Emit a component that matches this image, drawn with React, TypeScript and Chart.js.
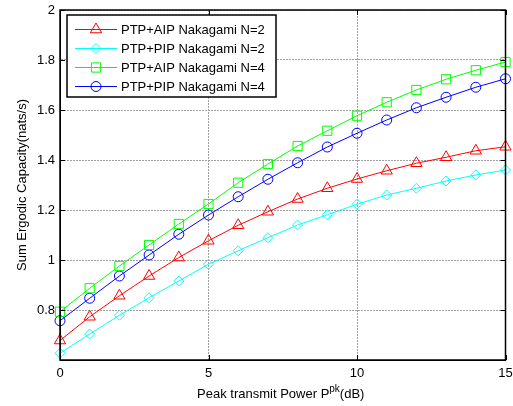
import { useEffect, useRef } from 'react';
import { Chart, registerables } from 'chart.js';
import { drawPoint } from 'chart.js/helpers';

Chart.register(...registerables);

const powerDb = [0, 1, 2, 3, 4, 5, 6, 7, 8, 9, 10, 11, 12, 13, 14, 15];
const aipN2 = [0.678, 0.773, 0.857, 0.936, 1.01, 1.077, 1.139, 1.193, 1.244, 1.287, 1.324, 1.357, 1.387, 1.411, 1.437, 1.453];
const pipN2 = [0.627, 0.704, 0.779, 0.849, 0.916, 0.983, 1.037, 1.089, 1.14, 1.181, 1.223, 1.26, 1.287, 1.316, 1.34, 1.36];
const aipN4 = [0.793, 0.887, 0.976, 1.06, 1.144, 1.224, 1.309, 1.384, 1.456, 1.517, 1.577, 1.631, 1.68, 1.723, 1.759, 1.792];
const pipN4 = [0.757, 0.847, 0.936, 1.02, 1.103, 1.18, 1.253, 1.323, 1.389, 1.452, 1.507, 1.56, 1.609, 1.651, 1.691, 1.725];
const seriesLabels = ['PTP+AIP Nakagami N=2', 'PTP+PIP Nakagami N=2', 'PTP+AIP Nakagami N=4', 'PTP+PIP Nakagami N=4'];
const xTickValues = [0, 5, 10, 15];
const yTickValues = [0.6, 0.8, 1, 1.2, 1.4, 1.6, 1.8, 2];
const xTitle = 'Peak transmit Power P';
const xTitleSup = 'pk';
const xTitleTail = '(dB)';
const yTitle = 'Sum Ergodic Capacity(nats/s)';

const FONT = '"Liberation Sans", Arial, Helvetica, sans-serif';

const framePlugin = {
  id: 'matlabFrame',
  afterDatasetsDraw(chart: any) {
    const { ctx, chartArea: a, scales } = chart;
    ctx.save();
    ctx.strokeStyle = '#000';
    ctx.lineWidth = 1;
    ctx.beginPath();
    const tl = 5;
    xTickValues.forEach((v) => {
      const px = Math.round(scales.x.getPixelForValue(v)) + 0.5;
      ctx.moveTo(px, a.bottom);
      ctx.lineTo(px, a.bottom - tl);
      ctx.moveTo(px, a.top);
      ctx.lineTo(px, a.top + tl);
    });
    yTickValues.forEach((v) => {
      const py = Math.round(scales.y.getPixelForValue(v)) + 0.5;
      ctx.moveTo(a.left, py);
      ctx.lineTo(a.left + tl, py);
      ctx.moveTo(a.right, py);
      ctx.lineTo(a.right - tl, py);
    });
    ctx.stroke();
    ctx.lineWidth = 1.5;
    ctx.strokeRect(a.left, a.top, a.right - a.left, a.bottom - a.top);
    ctx.restore();
  },
  afterDraw(chart: any) {
    const { ctx, chartArea: a } = chart;
    ctx.save();
    // legend
    const bx = 67, by = 15, bw = 209, bh = 82;
    ctx.fillStyle = '#fff';
    ctx.fillRect(bx, by, bw, bh);
    ctx.strokeStyle = '#000';
    ctx.lineWidth = 1.5;
    ctx.strokeRect(bx, by, bw, bh);
    chart.data.datasets.forEach((ds: any, i: number) => {
      const y = 29 + i * 19;
      ctx.strokeStyle = ds.borderColor;
      ctx.lineWidth = 1;
      ctx.beginPath();
      ctx.moveTo(75, y + 0.5);
      ctx.lineTo(117, y + 0.5);
      ctx.stroke();
      ctx.fillStyle = 'rgba(0,0,0,0)';
      drawPoint(ctx, {
        pointStyle: ds.pointStyle,
        radius: ds.pointRadius,
        borderWidth: 1,
        rotation: 0,
      } as any, 96, y + 0.5);
      ctx.fillStyle = '#000';
      ctx.font = `13px ${FONT}`;
      ctx.textAlign = 'left';
      ctx.textBaseline = 'middle';
      ctx.fillText(ds.label, 121, y + 1);
    });
    // x title
    ctx.fillStyle = '#000';
    ctx.textBaseline = 'alphabetic';
    ctx.font = `13px ${FONT}`;
    const w1 = ctx.measureText(xTitle).width;
    ctx.font = `10px ${FONT}`;
    const w2 = ctx.measureText(xTitleSup).width;
    ctx.font = `13px ${FONT}`;
    const w3 = ctx.measureText(xTitleTail).width;
    const total = w1 + w2 + w3;
    let sx = (a.left + a.right) / 2 - total / 2 - 2;
    const base = 398;
    ctx.textAlign = 'left';
    ctx.fillText(xTitle, sx, base);
    sx += w1;
    ctx.font = `10px ${FONT}`;
    ctx.fillText(xTitleSup, sx, base - 6);
    sx += w2;
    ctx.font = `13px ${FONT}`;
    ctx.fillText(xTitleTail, sx, base);
    // y title
    ctx.translate(22, (a.top + a.bottom) / 2);
    ctx.rotate(-Math.PI / 2);
    ctx.textAlign = 'center';
    ctx.textBaseline = 'middle';
    ctx.font = `13px ${FONT}`;
    ctx.fillText(yTitle, 0, 0);
    ctx.restore();
  },
};

export default function App() {
  const ref = useRef<HTMLCanvasElement | null>(null);
  useEffect(() => {
    document.body.style.margin = '0';
    const canvas = ref.current;
    if (!canvas) return;
    const mk = (label: string, data: number[], color: string, style: string, r: number) => ({
      label,
      data: data.map((v, i) => ({ x: powerDb[i], y: v })),
      borderColor: color,
      backgroundColor: 'rgba(0,0,0,0)',
      pointBackgroundColor: 'rgba(0,0,0,0)',
      pointBorderColor: color,
      pointStyle: style,
      pointRadius: r,
      pointBorderWidth: 1,
      borderWidth: 1,
      tension: 0,
      clip: false,
    });
    const chart = new Chart(canvas, {
      type: 'line',
      data: {
        datasets: [
          mk(seriesLabels[0], aipN2, '#ff0000', 'triangle', 6.5),
          mk(seriesLabels[1], pipN2, '#00ffff', 'rectRot', 5),
          mk(seriesLabels[2], aipN4, '#00ff00', 'rect', 6.5),
          mk(seriesLabels[3], pipN4, '#0000ff', 'circle', 5),
        ] as any,
      },
      options: {
        animation: false,
        responsive: false,
        maintainAspectRatio: false,
        layout: { padding: { top: 10, right: 6, left: 0, bottom: 0 } },
        plugins: {
          legend: { display: false },
          tooltip: { enabled: false },
        },
        scales: {
          x: {
            type: 'linear',
            min: 0,
            max: 15,
            afterBuildTicks: (s: any) => {
              s.ticks = xTickValues.map((v) => ({ value: v }));
            },
            afterFit: (s: any) => {
              s.height = 46;
              s.paddingLeft = 0;
              s.paddingRight = 0;
            },
            ticks: {
              color: '#000',
              font: { family: FONT, size: 13 },
              padding: 6,
              maxRotation: 0,
              autoSkip: false,
            },
            grid: { color: '#a0a0a0', drawTicks: false, lineWidth: 1 },
            border: { display: true, color: '#000', dash: [2, 1] },
          },
          y: {
            type: 'linear',
            min: 0.6,
            max: 2,
            afterBuildTicks: (s: any) => {
              s.ticks = yTickValues.map((v) => ({ value: v }));
            },
            afterFit: (s: any) => {
              s.width = 60;
              s.paddingTop = 0;
              s.paddingBottom = 0;
            },
            ticks: {
              color: '#000',
              font: { family: FONT, size: 13 },
              padding: 5,
              autoSkip: false,
              callback: (v: any) => (Number(v) < 0.7 ? '' : String(Math.round(Number(v) * 10) / 10)),
            },
            grid: { color: '#a0a0a0', drawTicks: false, lineWidth: 1 },
            border: { display: true, color: '#000', dash: [2, 1] },
          },
        },
      },
      plugins: [framePlugin],
    });
    return () => chart.destroy();
  }, []);
  return <canvas ref={ref} width={513} height={406} style={{ display: 'block', width: 513, height: 406 }} />;
}
